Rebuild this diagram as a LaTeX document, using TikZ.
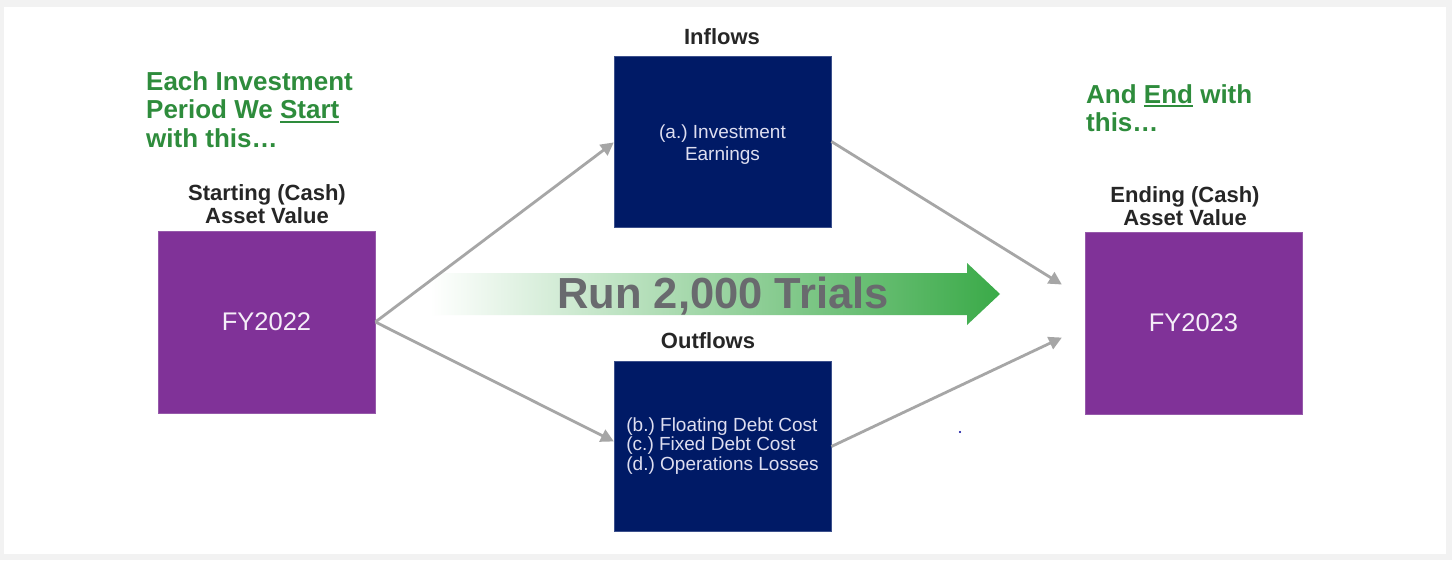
\documentclass[tikz,border=0pt]{standalone}
\usepackage{fontspec}
\setmainfont{Liberation Sans}
\usetikzlibrary{arrows.meta}
\frenchspacing
\definecolor{bggray}{HTML}{F2F2F2}
\definecolor{purplebox}{RGB}{128,50,152}
\definecolor{purpleedge}{RGB}{150,90,170}
\definecolor{navybox}{RGB}{0,26,102}
\definecolor{navyedge}{RGB}{60,80,140}
\definecolor{greentext}{RGB}{46,140,60}
\definecolor{arrowgreen}{RGB}{58,170,72}
\definecolor{conngray}{RGB}{166,166,166}
\definecolor{runggray}{RGB}{105,106,110}
\definecolor{navytext}{RGB}{222,222,240}
\definecolor{purpletext}{RGB}{245,238,248}
\newcommand\myul[1]{\setbox0\hbox{#1}\rlap{\rule[-4pt]{\wd0}{2pt}}\box0\relax}
\tikzset{
  purplebox/.style={draw=purpleedge, line width=0.8pt, fill=purplebox, minimum width=217pt, minimum height=182pt, inner sep=0pt,
    text=purpletext, font=\fontsize{25.5}{30}\selectfont},
  navybox/.style={draw=navyedge, line width=0.8pt, fill=navybox, minimum width=217pt, minimum height=171pt, inner sep=0pt,
    text=navytext, font=\fontsize{19}{20.5}\selectfont},
  heading/.style={inner sep=0pt, anchor=base, font=\bfseries\fontsize{22}{24}\selectfont, text=black!85},
  greenline/.style={inner sep=0pt, anchor=base west, font=\bfseries\fontsize{26}{28}\selectfont, text=greentext},
  conn/.style={draw=conngray, line width=2.8pt, -{Triangle[length=13pt,width=13pt]}, shorten >=-1pt},
}
\begin{document}
\begin{tikzpicture}[x=1pt,y=-1pt]
\fill[bggray] (0,0) rectangle (1452,560);
\fill[white] (4,6.5) rectangle (1446,553.5);
\useasboundingbox (0,0) rectangle (1452,560);

% gradient arrow
\shade[left color=white, right color=arrowgreen]
  (430,273) -- (967,273) -- (967,263) -- (1000,294) -- (967,325) -- (967,315) -- (430,315) -- cycle;
\node[inner sep=0pt, anchor=base, text=runggray, font=\bfseries\fontsize{43.5}{48}\selectfont] (run) at (723,308.5) {Run 2,000 Trials};

% boxes
\node[purplebox] (start) at (266.5,322) {FY2022};
\node[purplebox] (end) at (1193.5,323) {FY2023};
\node[navybox] (inflow) at (722.5,141.5) {};
\node[inner sep=0pt, text=navytext, font=\fontsize{19}{20.5}\selectfont, anchor=base] (inA) at (722.5,138) {(a.) Investment};
\node[inner sep=0pt, text=navytext, font=\fontsize{19}{20.5}\selectfont, anchor=base] (inB) at (722.5,160) {Earnings};
\node[navybox, minimum height=170pt] (outflow) at (722.5,446.5) {\begin{tabular}{@{}l@{}}(b.) Floating Debt Cost\\[-1pt] (c.) Fixed Debt Cost\\[-1pt] (d.) Operations Losses\end{tabular}};

% headings
\node[heading] (inlab) at (722,44) {Inflows};
\node[heading] (outlab) at (708,348) {Outflows};
\node[heading] (startl1) at (267,200) {Starting (Cash)};
\node[heading] (startl2) at (267,223) {Asset Value};
\node[heading] (endl1) at (1185,202) {Ending (Cash)};
\node[heading] (endl2) at (1185,225) {Asset Value};

% green texts
\node[greenline] (g1) at (146,90) {Each Investment};
\node[greenline] (g2) at (146,118.5) {Period We \myul{Start}};
\node[greenline] (g3) at (146,147) {with this\ldots};
\node[greenline] (h1) at (1086,103) {And \myul{End} with};
\node[greenline] (h2) at (1086,131) {this\ldots};

% connectors
\coordinate (inEnd) at (613,143);
\coordinate (outEnd) at (613,441);
\coordinate (r1) at (1061,284);
\coordinate (r2) at (1061,338);
\draw[conn] (start.east) -- (inEnd);
\draw[conn] (start.east) -- (outEnd);
\draw[conn] (inflow.east) -- (r1);
\draw[conn] (outflow.east) -- (r2);

% stray dot
\fill[blue!60!black] (960,432) circle (1.1pt);
\end{tikzpicture}
\end{document}
